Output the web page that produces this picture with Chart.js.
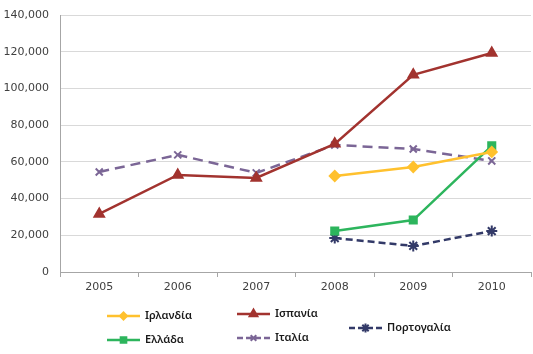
<!DOCTYPE html>
<html>
<head>
<meta charset="utf-8">
<script src="https://cdn.jsdelivr.net/npm/chart.js@4"></script>
<style>
  html, body { margin: 0; padding: 0; background: #fff; }
  #wrap { width: 533px; height: 354px; position: relative; }
  canvas { display: block; }
</style>
</head>
<body>
<div id="wrap"><canvas id="chart" width="533" height="354"></canvas></div>
<script>
// ── DATA ──────────────────────────────────────────
const years     = ['2005', '2006', '2007', '2008', '2009', '2010'];
const irlandia  = [null, null, null, 52300, 57200, 65400];
const ispania   = [31600, 52900, 51200, 69800, 107400, 119300];
const ellada    = [null, null, null, 22300, 28300, 68700];
const italia    = [54500, 63800, 54000, 69200, 67000, 60500];
const portogal  = [null, null, null, 18500, 14200, 22300];
const yTicks    = [0, 20000, 40000, 60000, 80000, 100000, 120000, 140000];

// ── SERIES ────────────────────────────────────────
const series = [
  { label: 'Ιρλανδία',   data: irlandia, color: '#FFC12E', style: 'rectRot',  r: 5,   lr: 3.5, dash: [],      lx: 107, ly: 316 },
  { label: 'Ισπανία',    data: ispania,  color: '#A2332F', style: 'triangle', r: 5.5, lr: 4.5, dash: [],      lx: 237, ly: 314 },
  { label: 'Ελλάδα',     data: ellada,   color: '#2DB55D', style: 'rect',     r: 5,   lr: 4,   dash: [],      lx: 107, ly: 340 },
  { label: 'Ιταλία',     data: italia,   color: '#7B6696', style: 'crossRot', r: 5,   lr: 4,   dash: [10, 6], lx: 237, ly: 338 },
  { label: 'Πορτογαλία', data: portogal, color: '#333A68', style: 'star',     r: 5.5, lr: 4.5, dash: [7, 4],  lx: 349, ly: 328 },
];

// ── LEGEND (drawn on canvas, Excel-like layout) ──
const customLegend = {
  id: 'customLegend',
  afterDraw(chart) {
    const ctx = chart.ctx;
    ctx.save();
    series.forEach(s => {
      const x0 = s.lx, x1 = s.lx + 33, y = s.ly;
      ctx.strokeStyle = s.color;
      ctx.lineWidth = 2.5;
      ctx.setLineDash(s.dash.length ? [6, 3] : []);
      ctx.beginPath();
      ctx.moveTo(x0, y);
      ctx.lineTo(x1, y);
      ctx.stroke();
      ctx.setLineDash([]);
      ctx.fillStyle = s.color;
      ctx.strokeStyle = s.color;
      ctx.lineWidth = 2;
      Chart.helpers.drawPoint(ctx, {
        pointStyle: s.style, radius: s.lr, rotation: 0, borderWidth: 2
      }, (x0 + x1) / 2, y);
      ctx.fillStyle = '#1a1a1a';
      ctx.font = '600 11px "Noto Sans"';
      ctx.textBaseline = 'middle';
      ctx.fillText(s.label, x1 + 5, y);
    });
    ctx.restore();
  }
};

new Chart(document.getElementById('chart'), {
  type: 'line',
  data: {
    labels: years,
    datasets: series.map(s => ({
      label: s.label,
      data: s.data,
      borderColor: s.color,
      backgroundColor: s.color,
      borderWidth: 2.5,
      borderDash: s.dash,
      pointStyle: s.style,
      pointRadius: s.r,
      pointBorderWidth: 2,
      pointBorderColor: s.color,
      pointBackgroundColor: s.color,
      tension: 0,
      spanGaps: false,
    }))
  },
  options: {
    responsive: false,
    animation: false,
    layout: { autoPadding: false, padding: { top: 15, right: 2, left: 0, bottom: 0 } },
    plugins: {
      legend: { display: false },
      tooltip: { enabled: false }
    },
    scales: {
      x: {
        offset: true,
        grid: { offset: true, drawOnChartArea: false, tickLength: 5, color: '#a6a6a6' },
        border: { color: '#a6a6a6' },
        ticks: { color: '#404040', font: { family: 'DejaVu Sans', size: 11 }, padding: 4 },
        afterFit: s => { s.height = 82; s.paddingLeft = 0; s.paddingRight = 0; }
      },
      y: {
        min: 0,
        max: 140000,
        afterBuildTicks: s => { s.ticks = yTicks.map(v => ({ value: v })); },
        grid: { color: '#d9d9d9', drawTicks: false },
        border: { color: '#a6a6a6' },
        ticks: {
          color: '#404040',
          font: { family: 'DejaVu Sans', size: 11 },
          padding: 11,
          callback: v => v.toLocaleString('en-US')
        },
        afterFit: s => { s.width = 60; s.paddingTop = 0; s.paddingBottom = 0; }
      }
    }
  },
  plugins: [customLegend]
});
</script>
</body>
</html>
